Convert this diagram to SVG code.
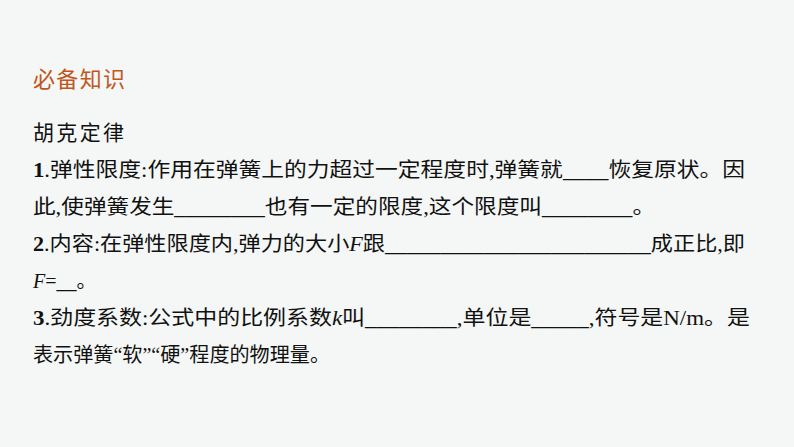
<svg xmlns="http://www.w3.org/2000/svg" width="794" height="447" viewBox="0 0 794 447">
<style>
text{font-family:"Liberation Serif","Noto Sans CJK SC",serif;font-size:20px;fill:#111}
.t{font-family:"Noto Sans CJK SC",sans-serif;font-size:22px;fill:#c0561e}
.h{font-family:"Noto Sans CJK SC",sans-serif;font-size:21px;fill:#111}
.b{font-weight:bold}
</style>
<rect width="794" height="447" fill="#f4f7f5"/>
<g id="title"><text class="t" x="33" y="87" textLength="92">必备知识</text></g>
<g id="heading"><text class="h" x="33" y="140" textLength="91">胡克定律</text></g>
<g id="body">
<text x="33" y="177" textLength="712" lengthAdjust="spacingAndGlyphs"><tspan class="b">1</tspan>.弹性限度:作用在弹簧上的力超过一定程度时,弹簧就____恢复原状。因</text>
<text x="33" y="214" textLength="622" lengthAdjust="spacingAndGlyphs">此,使弹簧发生________也有一定的限度,这个限度叫________。</text>
<text x="33" y="251" textLength="712" lengthAdjust="spacingAndGlyphs"><tspan class="b">2</tspan>.内容:在弹性限度内,弹力的大小<tspan font-style="italic">F</tspan>跟________________________成正比,即</text>
<text x="33" y="288"><tspan font-style="italic">F</tspan>=__。</text>
<text x="33" y="325" textLength="717" lengthAdjust="spacingAndGlyphs"><tspan class="b">3</tspan>.劲度系数:公式中的比例系数<tspan font-style="italic">k</tspan>叫________,单位是_____,符号是N/m。是</text>
<text x="33" y="362" textLength="297" lengthAdjust="spacingAndGlyphs">表示弹簧“软”“硬”程度的物理量。</text>
</g>
</svg>
